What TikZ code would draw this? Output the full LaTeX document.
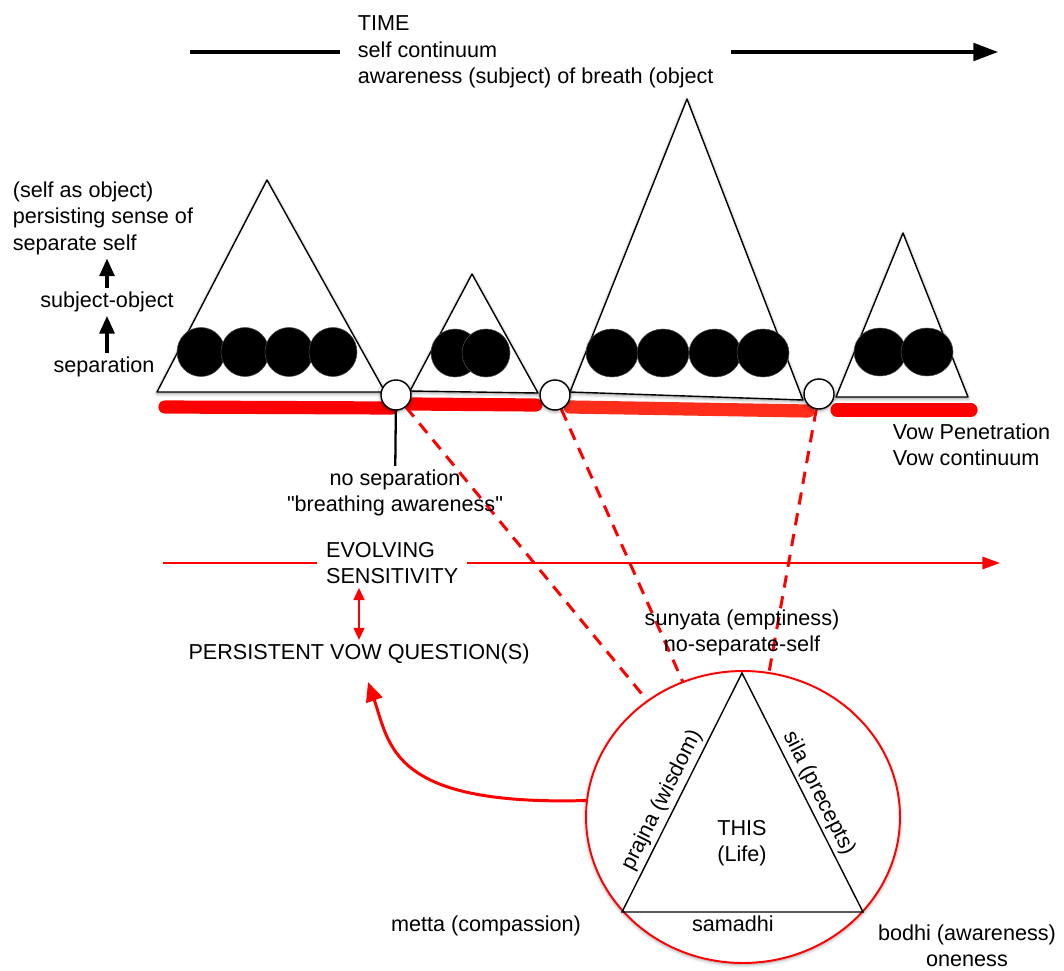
\documentclass[tikz,border=0pt]{standalone}
\usepackage{fontspec}
\setmainfont{Liberation Sans}[Ligatures=TeXOff]
\usetikzlibrary{shapes.geometric, arrows.meta, positioning, shadows.blur}
\pgfdeclarelayer{back}
\pgfsetlayers{back,main}
\definecolor{vowred}{RGB}{255,0,0}
\definecolor{vowtone}{RGB}{255,45,25}
\tikzstyle{words} = [font=\fontsize{12.3}{15}\selectfont, align=center, inner sep=2pt]
\tikzstyle{soft} = [blur shadow={shadow xshift=0pt, shadow yshift=-0.8pt, shadow blur radius=2pt, shadow opacity=45}]
\tikzstyle{peak} = [draw=black, fill=white, line width=0.8pt, line join=round, soft]
\tikzstyle{blob} = [fill=black, draw=black!70, line width=0.3pt]
\tikzstyle{gap} = [circle, draw=black, fill=white, line width=0.8pt, minimum size=0.6cm, inner sep=0pt, soft]
\tikzstyle{vowline} = [line width=7.5pt, line cap=round]
\tikzstyle{link} = [vowred, line width=1.7pt, dash pattern=on 7pt off 5pt]
\tikzstyle{arrow} = [line width=1.8pt, -{Triangle[length=14pt, width=10pt]}]
\tikzstyle{uparrow} = [line width=1.8pt, -{Triangle[length=10pt, width=8.5pt]}]
\tikzstyle{evo} = [vowred, line width=1.1pt]
\tikzstyle{duo} = [vowred, line width=1.5pt, {Triangle[length=7pt, width=6pt]}-{Triangle[length=7pt, width=6pt]}]
\tikzstyle{curve} = [vowred, line width=1.7pt, -{Triangle[length=11pt, width=9.6pt]}]

\begin{document}
\begin{tikzpicture}[x=0.02cm, y=-0.02cm]
\useasboundingbox (0,0) rectangle (1064,970);

% Time arrow
\node (time) [words, align=left, anchor=west, inner xsep=10pt] at (340,52) {TIME\\self continuum\\awareness (subject) of breath (object};
\coordinate (tl) at (190,52);
\coordinate (tr) at (998,52);
\draw [line width=1.8pt] (tl) -- (time);
\draw [arrow] (time) -- (tr);

% Left labels
\node (selfobj) [words, align=left, anchor=north west] at (9,178) {(self as object)\\persisting sense of\\separate self};
\node (subobj) [words] at (107,302) {subject-object};
\node (sep) [words] at (104,367) {separation};
\draw [uparrow] (subobj.north) -- (subobj.north |- selfobj.south);
\draw [uparrow] (sep.north -| subobj) -- (subobj.south);

% Peaks
\draw [peak] (157,392) -- (267,180) -- (385,392) -- cycle;
\draw [peak] (410,391) -- (472,274) -- (538,393) -- cycle;
\draw [peak] (570,392) -- (687,99) -- (803,400) -- cycle;
\draw [peak] (836,397) -- (903,233) -- (968,397) -- cycle;

% Breaths
\foreach \x in {201,245,289,333}
  \draw [blob] (\x,352) ellipse [x radius=24, y radius=24.5];
\foreach \x in {455,486}
  \draw [blob] (\x,353) ellipse [x radius=24, y radius=24];
\foreach \x in {612,663,715,763}
  \draw [blob] (\x,353) ellipse [x radius=26, y radius=24];
\foreach \x in {880,927}
  \draw [blob] (\x,352) ellipse [x radius=26, y radius=24];

% Vow line
\draw [vowline, vowred] (165,407) -- (392,408);
\draw [vowline, vowred] (412,404) -- (536,405);
\draw [vowline, vowtone] (570,407) -- (808,411);
\draw [vowline, vowred] (837,410) -- (971,410);

% Gaps
\node (wc1) [gap] at (396,395) {};
\node (wc2) [gap] at (555,395) {};
\node (wc3) [gap] at (819,394) {};

\node (vow) [words, align=left, anchor=north west] at (889,420) {Vow Penetration\\Vow continuum};
\node (nosep) [words] at (395,493) {no separation\\"breathing awareness"};
\draw [line width=1.3pt] (wc1) -- (nosep);

% Evolving sensitivity
\node (evs) [words, align=left, anchor=west, inner xsep=5pt] at (317,563) {EVOLVING\\SENSITIVITY};
\coordinate (evl) at (163,563);
\coordinate (evr) at (1000,563);
\draw [evo] (evl) -- (evs);
\draw [evo, -{Triangle[length=10pt, width=7pt]}] (evs) -- (evr);

\node (pvq) [words] at (359,654) {PERSISTENT VOW QUESTION(S)};
\draw [duo] (pvq.north) -- (pvq.north |- evs.south);

% Life
\node (life) [ellipse, draw=vowred, fill=white, line width=1.1pt, minimum width=6.28cm, minimum height=5.84cm, inner sep=0pt, soft] at (743,817) {};
\coordinate (apex) at (742,673);
\coordinate (pl) at (622,912);
\coordinate (pr) at (863,912);
\draw [line width=0.8pt] (pl) -- node[words, sloped, above, pos=0.44] {prajna (wisdom)} (apex)
  -- node[words, sloped, above, pos=0.53] {sila (precepts)} (pr)
  -- node[words, below, pos=0.54] {samadhi} cycle;
\node (this) [words] at (742,843) {THIS\\(Life)};

\node (sunyata) [words] at (742,633) {sunyata (emptiness)\\no-separate-self};
\node (bodhi) [words] at (967,946) {bodhi (awareness)\\oneness};
\node (metta) [words] at (486,926) {metta (compassion)};

% Connections
\begin{pgfonlayer}{back}
\draw [link] (wc1) -- (life);
\draw [link] (wc2) -- (life);
\draw [link] (wc3) -- (life);
\end{pgfonlayer}
\coordinate (qtip) at (368,682);
\draw [curve] (life.174) .. controls (390,806) and (390,745) .. (qtip);

\end{tikzpicture}
\end{document}
